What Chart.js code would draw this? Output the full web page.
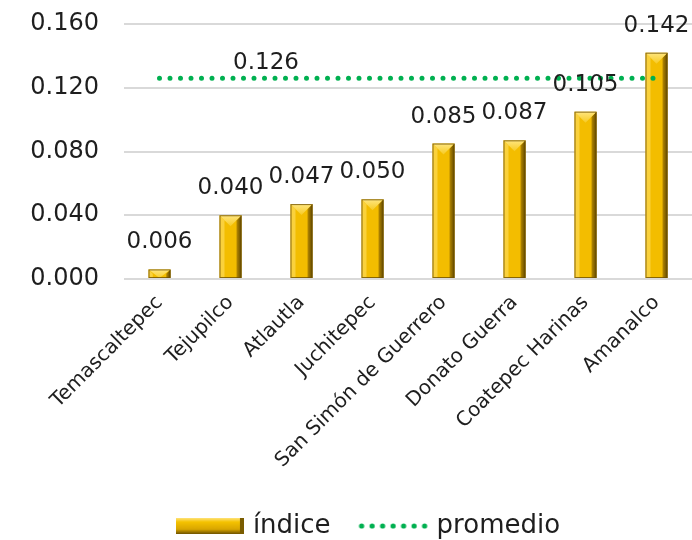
<!DOCTYPE html>
<html>
<head>
<meta charset="utf-8">
<script src="https://cdn.jsdelivr.net/npm/chart.js@4.4.1/dist/chart.umd.min.js"></script>
<style>
  html, body { margin: 0; padding: 0; background: #fff; }
  #wrap { width: 692px; height: 540px; }
</style>
</head>
<body>
<div id="wrap"><canvas id="chart"></canvas></div>
<script>
const municipios = ["Temascaltepec", "Tejupilco", "Atlautla", "Juchitepec", "San Simón de Guerrero", "Donato Guerra", "Coatepec Harinas", "Amanalco"];
const indice = [0.006, 0.040, 0.047, 0.050, 0.085, 0.087, 0.105, 0.142];
const promedio = [0.126, 0.126, 0.126, 0.126, 0.126, 0.126, 0.126, 0.126];
const promedioLabel = "0.126";
const yMax = 0.16;
const yStep = 0.04;

const FONT = "'DejaVu Sans', sans-serif";
const TEXT = "#1e1e1e";
const GREEN = "#00b050";

// legend swatches drawn on small canvases
function barSwatch() {
    const c = document.createElement("canvas");
    c.width = 68; c.height = 16;
    const g = c.getContext("2d");
    const grad = g.createLinearGradient(0, 0, 0, 16);
    grad.addColorStop(0, "#ffe27a");
    grad.addColorStop(0.25, "#f5c200");
    grad.addColorStop(0.7, "#d9a600");
    grad.addColorStop(1, "#6e5200");
    g.fillStyle = grad;
    g.fillRect(0, 0, 68, 16);
    g.fillStyle = "#7a5c00";
    g.fillRect(64, 0, 4, 16);
    return c;
}

function dotSwatch() {
    const c = document.createElement("canvas");
    c.width = 72; c.height = 10;
    const g = c.getContext("2d");
    g.fillStyle = GREEN;
    for (let i = 0; i < 7; i++) {
        g.beginPath();
        g.arc(4 + i * 10.5, 5, 2.6, 0, Math.PI * 2);
        g.fill();
    }
    return c;
}

// bevelled gold bars
const bevelPlugin = {
    id: "bevel",
    afterDatasetDraw(chart, args) {
        if (args.index !== 0) return;
        const ctx = chart.ctx;
        const meta = chart.getDatasetMeta(0);
        meta.data.forEach((bar) => {
            const { x, y, base, width } = bar.getProps(["x", "y", "base", "width"], true);
            const l = x - width / 2, r = x + width / 2, t = y, b = base;
            const bv = Math.min(5, width / 4, (b - t) / 2);
            ctx.save();
            // left face
            ctx.fillStyle = "rgba(255, 226, 110, 0.55)";
            ctx.beginPath();
            ctx.moveTo(l, t); ctx.lineTo(l + bv, t + bv); ctx.lineTo(l + bv, b); ctx.lineTo(l, b);
            ctx.closePath(); ctx.fill();
            // right face
            const rg = ctx.createLinearGradient(r - bv, 0, r, 0);
            rg.addColorStop(0, "#b88a00");
            rg.addColorStop(1, "#5e4600");
            ctx.fillStyle = rg;
            ctx.beginPath();
            ctx.moveTo(r, t); ctx.lineTo(r - bv, t + bv); ctx.lineTo(r - bv, b); ctx.lineTo(r, b);
            ctx.closePath(); ctx.fill();
            // top face
            const tg = ctx.createLinearGradient(0, t, 0, t + bv * 3);
            tg.addColorStop(0, "#ffe680");
            tg.addColorStop(1, "#f3c000");
            ctx.fillStyle = tg;
            ctx.beginPath();
            ctx.moveTo(l, t); ctx.lineTo(r, t); ctx.lineTo(x, t + Math.min(width / 2, (b - t)));
            ctx.closePath(); ctx.fill();
            ctx.strokeStyle = "rgba(110, 80, 0, 0.8)";
            ctx.lineWidth = 1;
            ctx.strokeRect(l + 0.5, t + 0.5, width - 1, b - t - 1);
            ctx.restore();
        });
    }
};

// value labels above bars and the average label
const labelPlugin = {
    id: "valueLabels",
    afterDatasetsDraw(chart) {
        const ctx = chart.ctx;
        const xs = chart.scales.x, ys = chart.scales.y;
        ctx.save();
        ctx.font = "23px " + FONT;
        ctx.fillStyle = TEXT;
        ctx.textAlign = "center";
        ctx.textBaseline = "middle";
        chart.getDatasetMeta(0).data.forEach((bar, i) => {
            ctx.fillText(indice[i].toFixed(3), bar.x, bar.y - 27);
        });
        const lx = (xs.getPixelForValue(1) + xs.getPixelForValue(2)) / 2;
        ctx.fillText(promedioLabel, lx, ys.getPixelForValue(promedio[0]) - 15);
        ctx.restore();
    }
};

// shift the legend right and down a little
const legendShift = {
    id: "legendShift",
    afterLayout(chart) {
        chart.legend.left += 48;
        chart.legend.top += 9;
    }
};

new Chart(document.getElementById("chart"), {
    data: {
        labels: municipios,
        datasets: [
            {
                type: "bar",
                label: "índice",
                data: indice,
                backgroundColor: "#f3bd00",
                barPercentage: 0.31,
                categoryPercentage: 1,
                order: 2
            },
            {
                type: "line",
                label: "promedio",
                data: promedio,
                borderColor: GREEN,
                borderWidth: 5,
                borderDash: [0, 10.5],
                borderCapStyle: "round",
                pointRadius: 0,
                fill: false,
                order: 1
            }
        ]
    },
    options: {
        responsive: true,
        maintainAspectRatio: false,
        animation: false,
        layout: { padding: { top: 24, right: 0, left: 0, bottom: 0 } },
        scales: {
            x: {
                offset: true,
                grid: { display: false },
                border: { display: false },
                ticks: {
                    color: TEXT,
                    font: { family: FONT, size: 20 },
                    minRotation: 45,
                    maxRotation: 45,
                    autoSkip: false,
                    padding: 4
                },
                afterFit: (scale) => {
                    scale.height = 192;
                    scale.paddingLeft = 0;
                    scale.paddingRight = 0;
                }
            },
            y: {
                min: 0,
                max: yMax,
                grid: { color: "#d9d9d9", lineWidth: 2, drawTicks: false },
                border: { display: false },
                ticks: {
                    stepSize: yStep,
                    color: TEXT,
                    padding: 25,
                    font: { family: FONT, size: 24 },
                    callback: (v) => v.toFixed(3)
                },
                afterFit: (scale) => {
                    scale.width = 124;
                    scale.paddingTop = 0;
                    scale.paddingBottom = 0;
                }
            }
        },
        plugins: {
            tooltip: { enabled: false },
            legend: {
                position: "bottom",
                labels: {
                    color: TEXT,
                    font: { family: FONT, size: 26 },
                    usePointStyle: true,
                    pointStyleWidth: 60,
                    padding: 33,
                    generateLabels: () => [
                        { text: "índice", pointStyle: barSwatch(), datasetIndex: 0, fontColor: TEXT, hidden: false, lineWidth: 0 },
                        { text: "promedio", pointStyle: dotSwatch(), datasetIndex: 1, fontColor: TEXT, hidden: false, lineWidth: 0 }
                    ]
                }
            }
        }
    },
    plugins: [bevelPlugin, labelPlugin, legendShift]
});
</script>
</body>
</html>
